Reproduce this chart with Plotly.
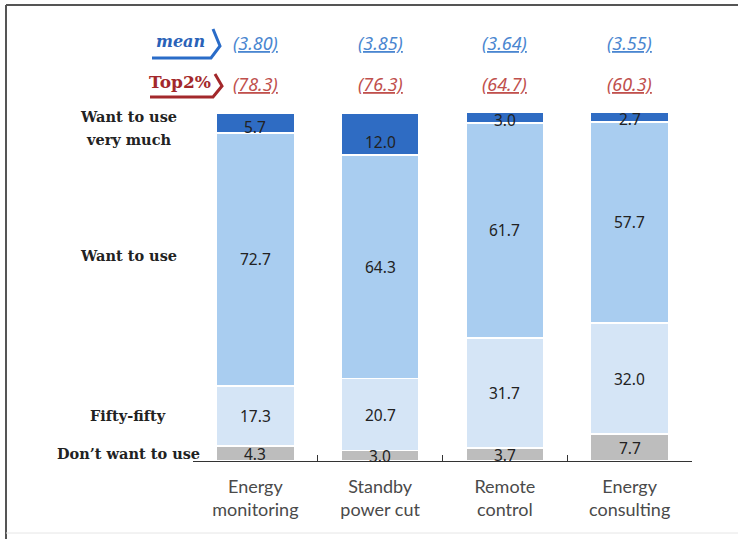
import plotly.graph_objects as go

categories = ["Energy<br>monitoring", "Standby<br>power cut", "Remote<br>control", "Energy<br>consulting"]
dont_want = [4.3, 3.0, 3.7, 7.7]
fifty_fifty = [17.3, 20.7, 31.7, 32.0]
want = [72.7, 64.3, 61.7, 57.7]
want_very_much = [5.7, 12.0, 3.0, 2.7]
mean_vals = ["3.80", "3.85", "3.64", "3.55"]
top2_vals = ["78.3", "76.3", "64.7", "60.3"]
series_names = ["Don\u2019t want to use", "Fifty-fifty", "Want to use", "Want to use<br>very much"]

series = [dont_want, fifty_fifty, want, want_very_much]
colors = ["#bdbdbd", "#d5e5f6", "#a9cdf0", "#2f6cc3"]

W, H = 738, 539
L, R, T, B = 193, 692, 113, 461


def px(x):
    return (x - L) / (R - L)


def py(y):
    return (B - y) / (B - T)


fig = go.Figure()
for name, vals, col in zip(series_names, series, colors):
    fig.add_trace(go.Bar(
        x=categories, y=vals, name=name,
        marker=dict(color=col, line=dict(color="white", width=1.5)),
        hoverinfo="skip",
    ))

annotations = []
# segment value labels
base = [0.0] * len(categories)
for si, vals in enumerate(series):
    for ci, v in enumerate(vals):
        if si == len(series) - 1:
            yy = base[ci] + 0.3 * v
        else:
            yy = base[ci] + v / 2
        annotations.append(dict(
            x=categories[ci], y=yy, xref="x", yref="y", text=f"{v:.1f}",
            xanchor="center", yanchor="middle",
            showarrow=False, font=dict(family="Noto Sans", size=15.5, color="#222222"),
        ))
        base[ci] += v

# left side category labels, at the first bar's segment centres
base0 = 0.0
for si, vals in enumerate(series):
    v = vals[0]
    yy = base0 + (v / 2 if si < len(series) - 1 else v / 2 - 1.5)
    if si == 2:
        yy += 1.0
    lines = series_names[si].split("<br>")
    n = len(lines)
    for li, line in enumerate(lines):
        annotations.append(dict(
            x=px(128), y=yy, xref="paper", yref="y", text=line,
            showarrow=False, xanchor="center", yanchor="middle",
            yshift=(-(li - (n - 1) / 2)) * 23,
            font=dict(family="DejaVu Serif", size=14.5, color="#222222", weight="bold"),
        ))
    base0 += v

# header rows
annotations.append(dict(x=px(180), y=py(41), xref="paper", yref="paper", text="<i><b>mean</b></i>",
                        xanchor="center", yanchor="middle",
                        showarrow=False, font=dict(family="DejaVu Serif", size=16, color="#2a62b8")))
annotations.append(dict(x=px(180), y=py(82), xref="paper", yref="paper", text="<b>Top2%</b>",
                        xanchor="center", yanchor="middle",
                        showarrow=False, font=dict(family="DejaVu Serif", size=17, color="#a3282b")))
for ci in range(len(categories)):
    annotations.append(dict(x=categories[ci], y=py(43), xref="x", yref="paper",
                            xanchor="center", yanchor="middle",
                            text=f"<i><u>({mean_vals[ci]})</u></i>", showarrow=False,
                            font=dict(family="Noto Sans", size=18, color="#4a86d0")))
    annotations.append(dict(x=categories[ci], y=py(84), xref="x", yref="paper",
                            xanchor="center", yanchor="middle",
                            text=f"<i><u>({top2_vals[ci]})</u></i>", showarrow=False,
                            font=dict(family="Noto Sans", size=18, color="#c0504d")))

shapes = [
    # chevrons
    dict(type="path", xref="paper", yref="paper",
         path=f"M {px(152)},{py(58)} L {px(211)},{py(58)} L {px(220)},{py(46)} L {px(213)},{py(29)}",
         line=dict(color="#2a6cc8", width=3)),
    dict(type="path", xref="paper", yref="paper",
         path=f"M {px(150)},{py(97)} L {px(213)},{py(97)} L {px(222)},{py(86)} L {px(215)},{py(74)}",
         line=dict(color="#a3282b", width=3)),
    # frame
    dict(type="line", xref="paper", yref="paper", x0=px(6), x1=px(738), y0=py(5), y1=py(5),
         line=dict(color="#555555", width=2)),
    dict(type="line", xref="paper", yref="paper", x0=px(6), x1=px(6), y0=py(5), y1=py(539),
         line=dict(color="#555555", width=2)),
    dict(type="line", xref="paper", yref="paper", x0=px(6), x1=px(738), y0=py(533), y1=py(533),
         line=dict(color="#e6e6e6", width=1)),
]

fig.update_layout(
    width=W, height=H,
    margin=dict(l=L, r=W - R, t=T, b=H - B, pad=0),
    barmode="stack", bargap=0.376,
    plot_bgcolor="white", paper_bgcolor="white",
    showlegend=False,
    annotations=annotations, shapes=shapes,
    xaxis=dict(showline=True, linecolor="#333333", linewidth=1.2, ticks="inside", ticklen=6,
               tickcolor="#333333", tickson="boundaries", range=[-0.5, 3.5],
               ticklabelstandoff=9,
               tickfont=dict(family="Lato", size=18, color="#4a4a4a"), showgrid=False),
    yaxis=dict(range=[0, 100], visible=False, showgrid=False),
)

fig.write_html("out.html", config={"displayModeBar": False},
               post_script="document.body.style.margin='0';")
